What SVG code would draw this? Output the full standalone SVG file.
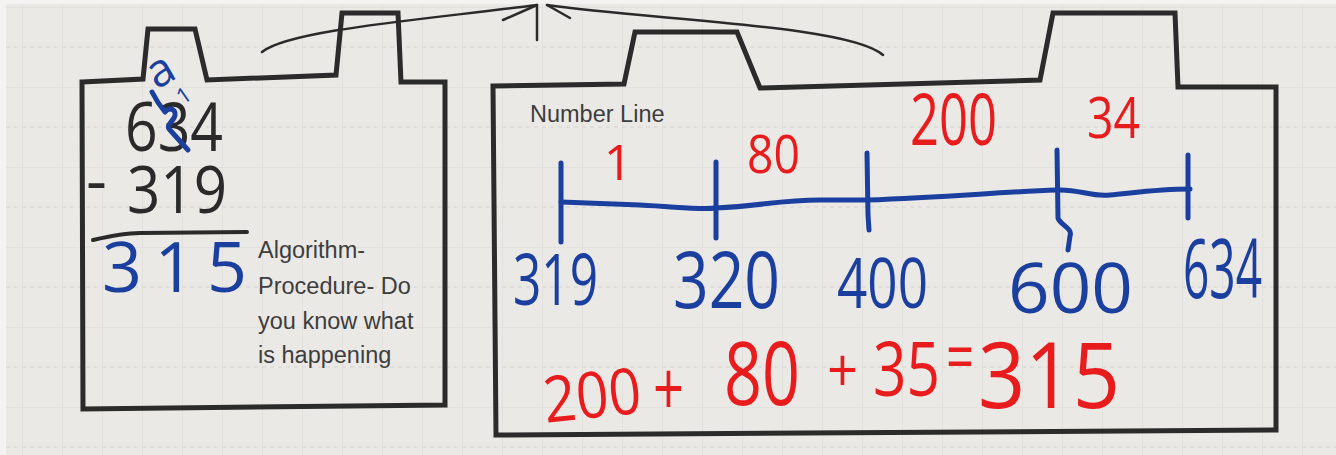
<svg xmlns="http://www.w3.org/2000/svg" width="1336" height="455" viewBox="0 0 1336 455">
  <defs>
    <pattern id="grid" patternUnits="userSpaceOnUse" x="22" y="7" width="40" height="80">
      <line x1="0" y1="0" x2="0" y2="80" stroke="#dcd9d5" stroke-width="1"/>
      <line x1="0" y1="0" x2="40" y2="0" stroke="#dcd9d5" stroke-width="1"/>
      <line x1="0" y1="40" x2="40" y2="40" stroke="#d6d3cf" stroke-width="1" stroke-dasharray="4 4"/>
    </pattern>
    <style>
      .folder { fill: none; stroke: #2b2b2b; stroke-width: 5; stroke-linejoin: miter; }
      .ink-blue { fill: none; stroke: #1b3f9e; stroke-width: 5; stroke-linecap: round; stroke-linejoin: round; }
      .ink-black { fill: none; stroke: #2a2a2a; stroke-width: 4; stroke-linecap: round; stroke-linejoin: round; }
      .brace { fill: none; stroke: #2a2a2a; stroke-width: 2.5; stroke-linecap: round; }
      .hand { font-family: "Open Sans", Lato, "Liberation Sans", sans-serif; font-weight: 400; }
      .blue { fill: #1b3f9e; }
      .red { fill: #e81c1c; }
      .black { fill: #2a2a2a; }
      .note { font-family: "Liberation Sans", Arial, sans-serif; font-size: 23.5px; fill: #3d3d3d; }
    </style>
  </defs>

  <!-- paper -->
  <rect x="0" y="0" width="1336" height="455" fill="#f4f3f1"/>
  <rect x="6" y="4" width="1330" height="451" fill="#ebe9e6"/>
  <rect x="6" y="4" width="1330" height="451" fill="url(#grid)"/>

  <!-- left folder -->
  <g id="folder-left">
    <path class="folder" d="M82,82 L143,79 L148,29 L195,29 L207,80 L336,75 L342,13 L398,13 L401,82 L445,82 L445,405 L83,409 Z"/>
    <text class="hand black" font-size="68"><tspan x="125" y="151" textLength="98" lengthAdjust="spacingAndGlyphs">634</tspan></text>
    <path class="ink-blue" stroke-width="4" d="M152,92 C156,100 160,106 165,112 C170,106 178,110 174,118 C170,124 166,126 170,130 L188,150"/>
    <text class="hand blue" font-size="46" font-weight="600" transform="rotate(-30 160 72)"><tspan x="148" y="86">a</tspan></text>
    <text class="hand blue" font-size="22" font-weight="600" transform="rotate(-35 182 95)"><tspan x="177" y="104">1</tspan></text>
    <text class="hand black" font-size="65"><tspan x="86" y="203">-</tspan><tspan x="127" y="213" textLength="100" lengthAdjust="spacingAndGlyphs">319</tspan></text>
    <path class="ink-black" d="M93,240 C110,236 125,233 140,233 L247,232"/>
    <text class="hand blue" font-size="70" font-weight="600"><tspan x="102" y="292" textLength="145" lengthAdjust="spacing">315</tspan></text>
    <text class="note"><tspan x="258" y="258">Algorithm-</tspan><tspan x="258" y="294">Procedure- Do</tspan><tspan x="258" y="329">you know what</tspan><tspan x="258" y="363">is happening</tspan></text>
  </g>

  <!-- right folder -->
  <g id="folder-right">
    <path class="folder" d="M493,86 L624,84 L635,32 L737,32 L760,88 L1040,80 L1053,13 L1175,13 L1178,87 L1276,87 L1276,430 L496,435 Z"/>
    <text class="note" font-size="24"><tspan x="530" y="122">Number Line</tspan></text>
  </g>

  <!-- number line -->
  <g id="number-line">
    <path class="ink-blue" d="M561,202 L640,205 C680,207 700,210 716,208 C760,206 780,200 820,200 L867,200 C950,197 1000,192 1057,190 C1080,189 1090,197 1110,195 C1140,192 1160,189 1190,189"/>
    <path class="ink-blue" d="M561,163 L561,242 M716,162 L716,238 M867,153 L868,215 L869,230 M1057,150 L1058,218 C1060,225 1073,228 1070,236 L1068,250 M1188,155 L1188,218"/>
    <text class="hand blue" font-size="72"><tspan x="513" y="305" textLength="85" lengthAdjust="spacingAndGlyphs">319</tspan></text>
    <text class="hand blue" font-size="78"><tspan x="673" y="308" textLength="107" lengthAdjust="spacingAndGlyphs">320</tspan></text>
    <text class="hand blue" font-size="70"><tspan x="837" y="308" textLength="91" lengthAdjust="spacingAndGlyphs">400</tspan></text>
    <text class="hand blue" font-size="70"><tspan x="1008" y="313" textLength="125" lengthAdjust="spacingAndGlyphs">600</tspan></text>
    <text class="hand blue" font-size="82"><tspan x="1183" y="298" textLength="79" lengthAdjust="spacingAndGlyphs">634</tspan></text>
    <text class="hand red" font-size="50" text-anchor="middle"><tspan x="618" y="180">1</tspan></text>
    <text class="hand red" font-size="53"><tspan x="747" y="173" textLength="53" lengthAdjust="spacingAndGlyphs">80</tspan></text>
    <text class="hand red" font-size="72"><tspan x="910" y="145" textLength="87" lengthAdjust="spacingAndGlyphs">200</tspan></text>
    <text class="hand red" font-size="57"><tspan x="1087" y="138" textLength="53" lengthAdjust="spacingAndGlyphs">34</tspan></text>
  </g>

  <!-- equation -->
  <g id="equation">
    <text class="hand red" font-size="64" transform="rotate(-6 590 395)"><tspan x="543" y="418" textLength="98" lengthAdjust="spacingAndGlyphs">200</tspan></text>
    <text class="hand red" font-size="75"><tspan x="653" y="415" textLength="31" lengthAdjust="spacingAndGlyphs">+</tspan></text>
    <text class="hand red" font-size="88"><tspan x="724" y="405" textLength="76" lengthAdjust="spacingAndGlyphs">80</tspan></text>
    <text class="hand red" font-size="60"><tspan x="827" y="392" textLength="31" lengthAdjust="spacingAndGlyphs">+</tspan></text>
    <text class="hand red" font-size="75"><tspan x="873" y="396" textLength="67" lengthAdjust="spacingAndGlyphs">35</tspan></text>
    <text class="hand red" font-size="70"><tspan x="946" y="381" textLength="28" lengthAdjust="spacingAndGlyphs">=</tspan></text>
    <text class="hand red" font-size="91"><tspan x="978" y="408" textLength="142" lengthAdjust="spacingAndGlyphs">315</tspan></text>
  </g>

  <!-- connectors -->
  <g id="connectors">
    <path class="brace" d="M262,52 C290,30 420,20 537,5"/>
    <path class="brace" d="M547,5 C650,20 850,25 883,55"/>
    <path class="brace" d="M537,5 L537,40 M537,5 L503,20 M547,5 L570,18"/>
  </g>
</svg>
